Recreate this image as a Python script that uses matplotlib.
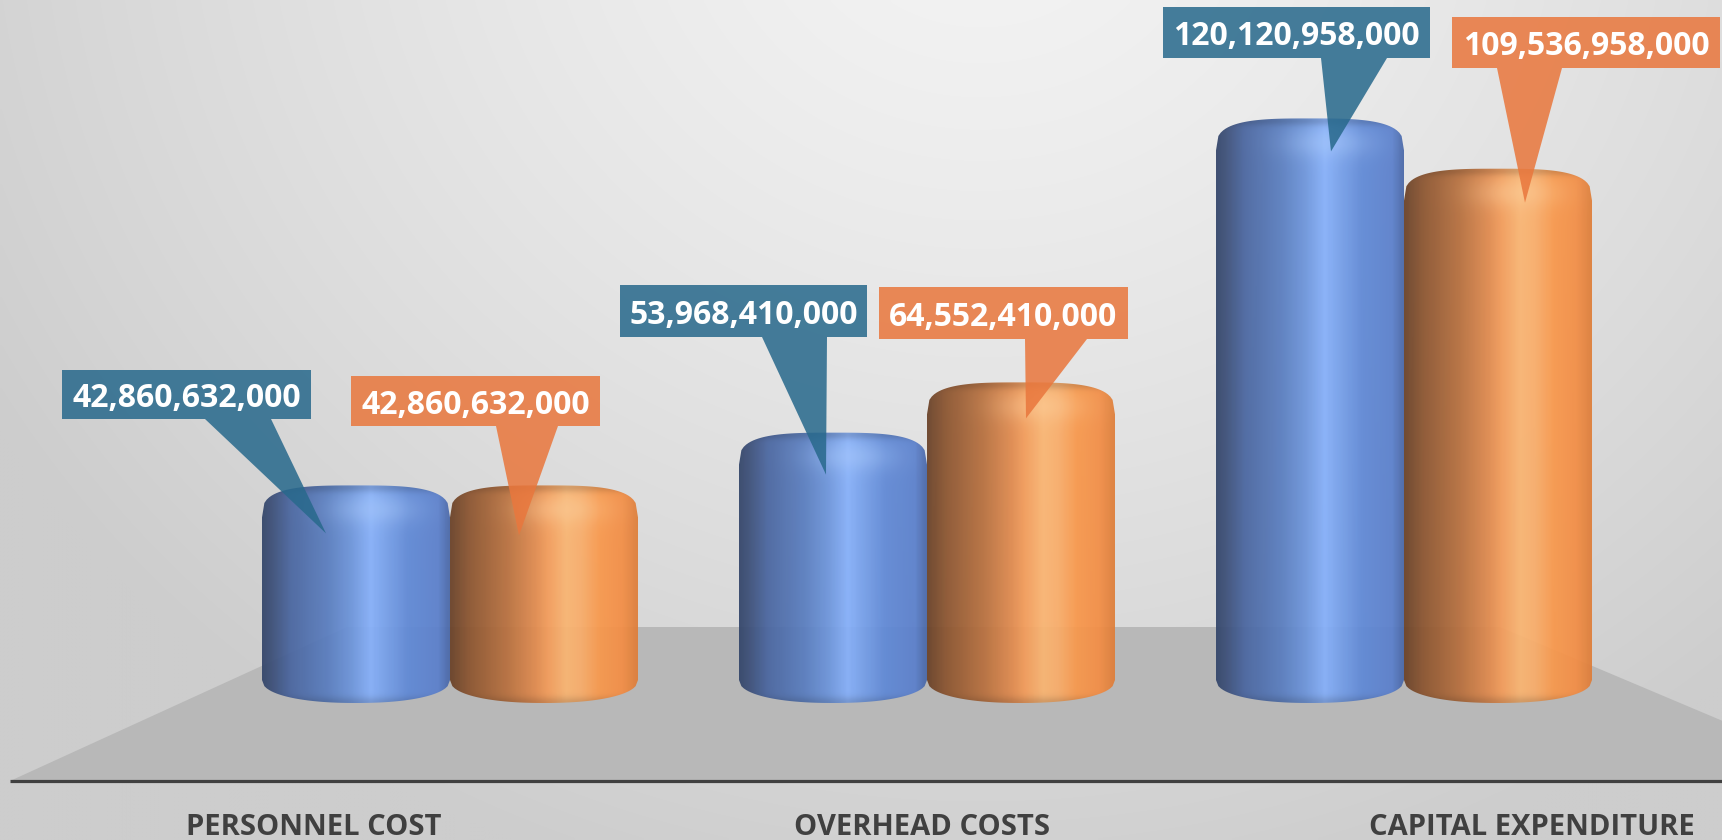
import numpy as np
import matplotlib
matplotlib.use("Agg")
import matplotlib.pyplot as plt
from matplotlib.path import Path
from matplotlib.patches import PathPatch, Polygon
from matplotlib.colors import LinearSegmentedColormap, to_rgb

# ---------------- data ----------------
categories = ["PERSONNEL COST", "OVERHEAD COSTS", "CAPITAL EXPENDITURE"]
series_blue = [42860632000, 53968410000, 120120958000]
series_orange = [42860632000, 64552410000, 109536958000]
labels_blue = ["42,860,632,000", "53,968,410,000", "120,120,958,000"]
labels_orange = ["42,860,632,000", "64,552,410,000", "109,536,958,000"]

# ---------------- layout (pixels) ----------------
W, H = 1722, 840
PX_PER_CAT = 477.0     # horizontal distance between category groups
X0_PX = 450.0          # pixel x of first category
PX_PER_B = 4.75        # pixels per billion
Y0_PX = 689.0          # pixel y of value 0
BAR_W_PX = 188.0
CAP_PX = 32.0
SIDE_BOT_PX = 680.0
BOT_PX = 703.0

# callout layout: box [x0, x1, y0, y1], pointer base [bl, br], tip offset (dx, dy) from bar top
box_blue = [[62, 311, 370, 419], [620, 867, 285, 337], [1163, 1430, 7, 58]]
box_orange = [[351, 600, 376, 426], [879, 1128, 287, 339], [1452, 1720, 17, 68]]
base_blue = [[205, 271], [762, 827], [1321, 1387]]
base_orange = [[496, 558], [1025, 1087], [1497, 1562]]
tip_blue = [(-30, 48), (-7, 42), (21, 33)]
tip_orange = [(-25, 50), (5, 36), (27, 34)]
cat_label_px = [(314, 824), (922, 824), (1532, 824)]

fig = plt.figure(figsize=(W / 100, H / 100), dpi=100)
ax = fig.add_axes([0, 0, 1, 1])
ax.set_axis_off()
xlim = (-X0_PX / PX_PER_CAT, (W - X0_PX) / PX_PER_CAT)
ylim = ((Y0_PX - H) / PX_PER_B, Y0_PX / PX_PER_B)


def px2d(px, py):
    return (px - X0_PX) / PX_PER_CAT, (Y0_PX - py) / PX_PER_B


def dx2d(dpx):
    return dpx / PX_PER_CAT


def dy2d(dpx):
    return dpx / PX_PER_B


# ---------------- background ----------------
gy, gx = np.mgrid[0:H:4, 0:W:4]
d = np.sqrt(((gx - 980) / 1.0) ** 2 + ((gy + 120) * 1.1) ** 2)
t = np.clip(d / 1150.0, 0, 1) ** 1.3
c0 = np.array(to_rgb("#f4f4f4"))
c1 = np.array(to_rgb("#cdcdcd"))
bg = c0[None, None, :] * (1 - t[..., None]) + c1[None, None, :] * t[..., None]
ax.imshow(bg, extent=(xlim[0], xlim[1], ylim[0], ylim[1]), origin="upper",
          aspect="auto", interpolation="bilinear", zorder=0)

# floor
floor_px = [(10, 781), (347, 627), (1500, 627), (1865, 781)]
floor = Polygon([px2d(*p) for p in floor_px], closed=True, facecolor="#b8b8b8",
                edgecolor="none", zorder=1)
ax.add_patch(floor)

# axis line
ax.plot([px2d(10, 781)[0], px2d(W, 781)[0]], [px2d(10, 781)[1]] * 2,
        color="#404040", lw=2.3, solid_capstyle="butt", zorder=2)

# ---------------- cylinders ----------------
blue_cmap = LinearSegmentedColormap.from_list("b", [
    (0.0, "#34466a"), (0.05, "#3c4f78"), (0.15, "#4a66a0"), (0.35, "#5a7ec0"),
    (0.47, "#6c94da"), (0.58, "#86b0fa"), (0.66, "#76a0ea"), (0.78, "#6089d6"),
    (0.94, "#5b80cc"), (1.0, "#4a68a8")])
orange_cmap = LinearSegmentedColormap.from_list("o", [
    (0.0, "#6a4228"), (0.1, "#8c5530"), (0.3, "#b8703e"), (0.45, "#e08a4e"),
    (0.52, "#f39c5a"), (0.62, "#fab572"), (0.7, "#f9ad6a"), (0.8, "#f8984c"),
    (0.92, "#f38e46"), (1.0, "#de7e3a")])


def cyl_path(xl, xr, top, cap_h, side_bot, bot):
    n = 80
    tt = np.linspace(-1, 1, n)
    xm = (xl + xr) / 2
    hw = (xr - xl) / 2
    p = 3.2
    top_y = (top - cap_h) + cap_h * (1 - np.abs(tt) ** p) ** (1 / p)
    pb = 2.2
    bot_y = side_bot - (side_bot - bot) * (1 - np.abs(tt) ** pb) ** (1 / pb)
    xs = np.concatenate([xm + hw * tt, (xm + hw * tt)[::-1]])
    ys = np.concatenate([top_y, bot_y[::-1]])
    verts = np.column_stack([xs, ys])
    verts = np.vstack([verts, verts[:1]])
    codes = [Path.MOVETO] + [Path.LINETO] * (len(verts) - 2) + [Path.CLOSEPOLY]
    return Path(verts, codes)


def draw_cylinder(xl, xr, val_b, cmap, light, z):
    cap_h = dy2d(CAP_PX)
    side_bot = px2d(0, SIDE_BOT_PX)[1]
    bot = px2d(0, BOT_PX)[1]
    path = cyl_path(xl, xr, val_b, cap_h, side_bot, bot)
    patch = PathPatch(path, facecolor="none", edgecolor="none", zorder=z)
    ax.add_patch(patch)
    nx, ny = 220, 400
    u = np.linspace(0, 1, nx)
    yy = np.linspace(bot, val_b, ny)
    rgb = cmap(u)[:, :3][None, :, :].repeat(ny, axis=0)
    dpx = (val_b - yy) * PX_PER_B
    hl = 0.45 * np.exp(-((u[None, :] - 0.6) / 0.22) ** 2) * np.exp(-((dpx[:, None] - 24) / 15) ** 2)
    lc = np.array(to_rgb(light))
    rgb = rgb + (lc[None, None, :] - rgb) * hl[..., None]
    # slight darkening near the top rim
    rim = 0.15 * np.exp(-((dpx[:, None] - 2) / 5) ** 2) * np.ones_like(u)[None, :]
    rgb = rgb * (1 - rim[..., None])
    # darker bottom rim
    bdark = 0.15 * np.exp(-((yy[:, None] - bot) * PX_PER_B / 6) ** 2) * np.ones_like(u)[None, :]
    rgb = rgb * (1 - bdark[..., None])
    im = ax.imshow(np.clip(rgb, 0, 1), extent=(xl, xr, bot, val_b), origin="lower",
                   aspect="auto", interpolation="bilinear", zorder=z, alpha=0.94)
    im.set_clip_path(patch)


bw = dx2d(BAR_W_PX)
for i in range(len(categories)):
    draw_cylinder(i - bw, i, series_blue[i] / 1e9, blue_cmap, "#a9cbff", 3)
    draw_cylinder(i, i + bw, series_orange[i] / 1e9, orange_cmap, "#ffd09a", 4)


# ---------------- callouts ----------------
def callout(box, base, tip_xy, text, color):
    x0, x1, y0, y1 = box
    bl, br = base
    verts = [px2d(x0, y0), px2d(x1, y0), px2d(x1, y1), px2d(br, y1), tip_xy,
             px2d(bl, y1), px2d(x0, y1)]
    ax.add_patch(Polygon(verts, closed=True, facecolor=color, edgecolor="none",
                         alpha=0.86, zorder=6))
    cx, cy = px2d((x0 + x1) / 2, (y0 + y1) / 2)
    ax.text(cx, cy, text, color="white", fontsize=23, fontweight="bold",
            family=["Open Sans", "DejaVu Sans"], ha="center", va="center_baseline",
            zorder=7)


for i in range(len(categories)):
    xb = i - bw / 2
    xo = i + bw / 2
    tb = (xb + dx2d(tip_blue[i][0]), series_blue[i] / 1e9 - dy2d(tip_blue[i][1]))
    to = (xo + dx2d(tip_orange[i][0]), series_orange[i] / 1e9 - dy2d(tip_orange[i][1]))
    callout(box_blue[i], base_blue[i], tb, labels_blue[i], "#28698c")
    callout(box_orange[i], base_orange[i], to, labels_orange[i], "#e9773d")

# ---------------- category labels ----------------
for name, (lx, ly) in zip(categories, cat_label_px):
    x, y = px2d(lx, ly)
    ax.text(x, y, name, color="#404040", fontsize=21, fontweight="bold",
            family=["Open Sans", "DejaVu Sans"], ha="center", va="center_baseline",
            zorder=7)

ax.set_xlim(*xlim)
ax.set_ylim(*ylim)
fig.savefig("out.png", dpi=100)
